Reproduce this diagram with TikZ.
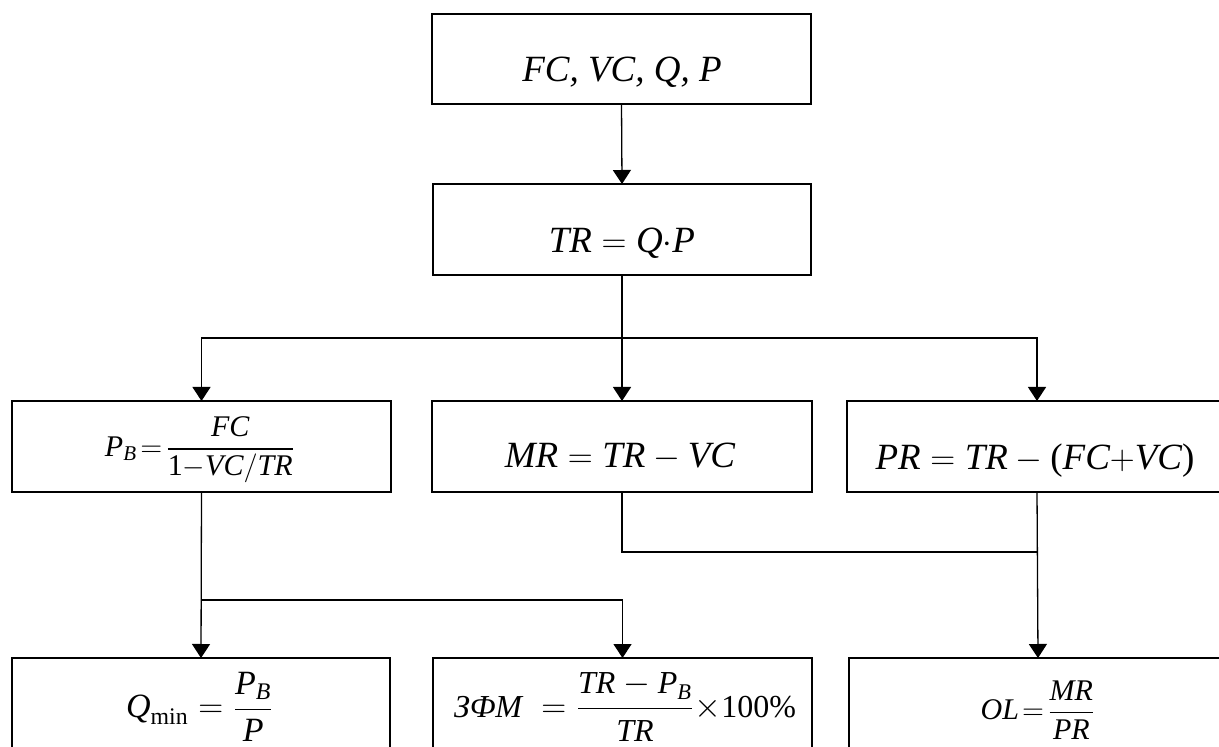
\documentclass[tikz,border=0pt]{standalone}
\usepackage{amsmath}
\usepackage{fontspec}
\setmainfont{Liberation Serif}
\usetikzlibrary{arrows.meta}
\newcommand\mi[1]{\textit{#1}}
\begin{document}
\begin{tikzpicture}[x=0.5pt,y=-0.5pt,
  box/.style={draw, line width=1.3pt, inner sep=0pt, outer sep=0pt},
  conn/.style={line width=0.65pt},
  arr/.style={conn, -{Triangle[width=9pt,length=7pt]}},
  big/.style={font=\fontsize{18.5}{22}\selectfont, inner sep=0pt},
  frm/.style={inner sep=0pt}]
\path[use as bounding box] (0,0) rectangle (1219,747);
\clip (0,0) rectangle (1219,747);
% boxes
\node[box, minimum width=189.5pt, minimum height=45pt]   (b1) at (621.5,59) {};
\node[box, minimum width=189pt,   minimum height=45.5pt] (b2) at (622,229.5) {};
\node[box, minimum width=189.5pt, minimum height=45.5pt] (l3) at (201.5,446.5) {};
\node[box, minimum width=190pt,   minimum height=45.5pt] (m3) at (622,446.5) {};
\node[box, minimum width=190pt,   minimum height=45.5pt] (r3) at (1037,446.5) {};
\node[box, minimum width=189pt,   minimum height=51pt]   (l4) at (201,709) {};
\node[box, minimum width=189.5pt, minimum height=51pt]   (m4) at (622.5,709) {};
\node[box, minimum width=189pt,   minimum height=51pt]   (r4) at (1038,709) {};
% texts
\node[big, anchor=base] (t1) at (622,82) {\itshape FC, VC, Q, P};
\node[big, anchor=base] (t2) at (622,253) {$\mi{TR} = \mi{Q}{\cdot}\mi{P}$};
\node[big, anchor=base] (t3m) at (620,468) {$\mi{MR} = \mi{TR} - \mi{VC}$};
\node[big, anchor=base] (t3r) at (1035,470) {$\mi{PR} = \mi{TR} - \textup{(}\mi{FC}{+}\mi{VC}\textup{)}$};
\node[frm, font=\fontsize{15}{18}\selectfont] (t3l) at (200,450)
  {$\mi{P}_{\mi{B}}\!=\!\dfrac{\mi{FC}}{\textup{1}{-}\mi{VC}/\mi{TR}}$};
\node[frm, font=\fontsize{17}{20}\selectfont] (t4l) at (200,707)
  {$\mi{Q}_{\textup{min}} = \dfrac{\mi{P}_{\mi{B}}}{\mi{P}}$};
\node[frm, font=\fontsize{16}{19}\selectfont] (t4m) at (625,707)
  {$\mi{ЗФМ}\;=\dfrac{\mi{TR} - \mi{P}_{\mi{B}}}{\mi{TR}}{\times}\textup{100\%}$};
\node[frm, font=\fontsize{15}{18}\selectfont] (t4r) at (1038,710)
  {$\mi{OL}\!=\!\dfrac{\mi{MR}}{\mi{PR}}$};
% connectors
\draw[arr] (b1.south) -- (b2.north);
\coordinate (j1) at (622,338);
\draw[conn] (b2.south) -- (j1);
\draw[arr] (j1) -- (m3.north);
\draw[arr] (j1) -| (l3.north);
\draw[arr] (j1) -| (r3.north);
\coordinate (j2) at (201,600);
\draw[arr] (l3.south) -- (l4.north);
\draw[arr] (j2) -| (m4.north);
\coordinate (j3) at (622,552);
\draw[conn] (m3.south) -- (j3) -- (r3.south |- j3);
\draw[arr] (r3.south) -- (r4.north);
\end{tikzpicture}
\end{document}
